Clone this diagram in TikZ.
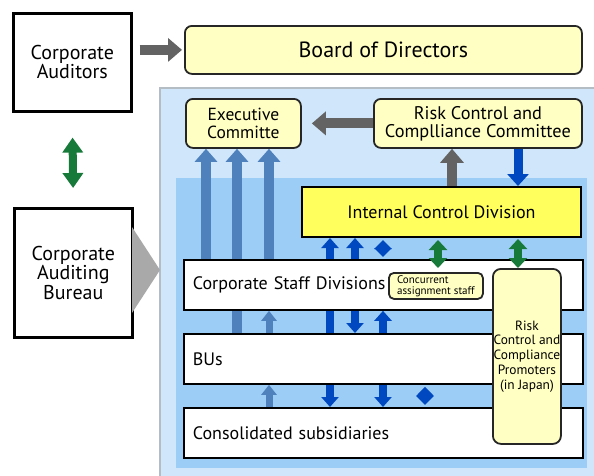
\documentclass[tikz,border=0pt]{standalone}
\usepackage{fontspec}
\setmainfont{PT Sans}
\usetikzlibrary{arrows.meta}
\definecolor{outerblue}{HTML}{D0E7FB}
\definecolor{innerblue}{HTML}{9CCDF6}
\definecolor{paleyel}{HTML}{FFFFC4}
\definecolor{brightyel}{HTML}{FFFF5E}
\definecolor{arrgray}{HTML}{636363}
\definecolor{steel}{HTML}{4F81BD}
\definecolor{darkblue}{HTML}{0048C0}
\definecolor{arrgreen}{HTML}{187A3A}
\definecolor{trigray}{HTML}{A9A9A9}
\definecolor{panelline}{HTML}{B4BCC4}
\begin{document}
\begin{tikzpicture}[x=1pt,y=-1pt,
  plainbox/.style={draw=black, line width=2.6pt, fill=white, inner sep=0pt, anchor=north west, align=center, font=\fontsize{20}{17}\selectfont},
  ybox/.style={draw=black!85, line width=1.8pt, fill=paleyel, rounded corners=7pt, inner sep=0pt, anchor=north west, align=center},
  layerbox/.style={draw=black, line width=1.8pt, fill=white, anchor=north west, minimum height=50pt, inner xsep=9pt, inner ysep=0pt, text width=381pt, align=left, font=\fontsize{18}{20}\selectfont},
  grayarr/.style={draw=arrgray, line width=10pt, -{Triangle[length=14pt,width=23pt]}},
  steelarr/.style={draw=steel, line width=10pt, -{Triangle[length=13pt,width=22pt]}},
  thinsteel/.style={draw=steel, line width=7pt, -{Triangle[length=10pt,width=15pt]}},
  bluearr/.style={draw=darkblue, line width=8pt, -{Triangle[length=10pt,width=17pt]}},
  bluebar/.style={draw=darkblue, line width=8pt},
  bluedia/.style={draw=darkblue, line width=6pt, {Triangle[length=9pt,width=17pt]}-{Triangle[length=9pt,width=17pt]}, shorten <=2pt, shorten >=2pt},
  greenarr/.style={draw=arrgreen, line width=8pt, {Triangle[length=10pt,width=18pt]}-{Triangle[length=10pt,width=18pt]}},
]
\useasboundingbox (0,0) rectangle (594,475);
\fill[white] (0,0) rectangle (594,475);

% panels
\filldraw[fill=outerblue, draw=panelline, line width=1.5pt] (160,88) rectangle (600,480);
\fill[innerblue] (176,178) rectangle (587,468);

% column coordinates
\coordinate (c206) at (206,0);
\coordinate (c237) at (237,0);
\coordinate (c269) at (269,0);
\coordinate (c330) at (330,0);
\coordinate (c355) at (355,0);
\coordinate (c383) at (383,0);
\coordinate (c425) at (425,0);
\coordinate (c438) at (438,0);
\coordinate (c452) at (452,0);
\coordinate (c518) at (518,0);

% left boxes
\node[plainbox, minimum width=118pt, minimum height=98pt] (aud) at (12,12) {Corporate\\Auditors};
\node[plainbox, minimum width=118pt, minimum height=129pt] (bureau) at (13,207) {Corporate\\Auditing\\Bureau};
\fill[trigray] (132,227) -- (160,270) -- (132,313) -- cycle;

% top boxes
\node[ybox, minimum width=397pt, minimum height=48pt, font=\fontsize{22}{24}\selectfont] (board) at (184,25) {Board of Directors};
\node[ybox, minimum width=115pt, minimum height=49pt, font=\fontsize{17.5}{18}\selectfont] (exec) at (185,98) {Executive\\Committe};
\node[ybox, minimum width=208pt, minimum height=49pt, font=\fontsize{18.3}{18}\selectfont] (risk) at (373,98) {Risk Control and\\Complliance Committee};
\node[draw=black, line width=2pt, fill=brightyel, inner sep=0pt, anchor=north west, minimum width=279pt, minimum height=50pt, font=\fontsize{18}{20}\selectfont] (ic) at (301,186) {Internal Control Division};

% layer boxes
\node[layerbox] (cons) at (183,407) {Consolidated subsidiaries};

% long arrows behind boxes
\path (183,333) coordinate (busnw);
\draw[steelarr] (c237 |- busnw) -- (c237 |- exec.south);
\draw[bluearr] (330,310) -- (cons.north -| c330);

\node[layerbox] (bus) at (183,333) {BUs};
\node[layerbox] (csd) at (183,259) {Corporate Staff Divisions};

\draw[steelarr] (csd.north -| c206) -- (exec.south -| c206);
\draw[steelarr] (csd.north -| c269) -- (exec.south -| c269);
\draw[thinsteel] (bus.north -| c269) -- (csd.south -| c269);
\draw[thinsteel] (cons.north -| c269) -- (bus.south -| c269);

\node[ybox, rounded corners=5pt, minimum width=94pt, minimum height=26pt, align=left, font=\fontsize{11}{11}\selectfont] (conc) at (388,272) {Concurrent\\assignment staff};
\node[ybox, rounded corners=8pt, minimum width=68pt, minimum height=175pt, font=\fontsize{13.4}{14.7}\selectfont] (prom) at (492,268) {Risk\\Control and\\Compliance\\Promoters\\(in Japan)};

% gray arrows
\draw[grayarr, shorten <=7pt, shorten >=2pt] (aud.east |- board.west) -- (board.west);
\draw[grayarr, shorten >=10pt] (risk.west) -- (exec.east);
\draw[grayarr] (ic.north -| c452) -- (risk.south -| c452);
\draw[draw=darkblue, line width=9pt, -{Triangle[length=12pt,width=21pt]}] (risk.south -| c518) -- (ic.north -| c518);

% blue arrows IC <-> CSD
\draw[bluearr] (csd.north -| c330) -- (ic.south -| c330);
\draw[bluearr] (csd.north -| c355) -- (ic.south -| c355);
\draw[bluedia] (csd.north -| c383) -- (ic.south -| c383);
% CSD <-> BUs
\draw[bluebar] (csd.south -| c330) -- (bus.north -| c330);
\draw[bluearr] (csd.south -| c355) -- (bus.north -| c355);
\draw[bluearr] (bus.north -| c383) -- (csd.south -| c383);
% BUs <-> Consolidated
\draw[bluearr] (bus.south -| c383) -- (cons.north -| c383);
\draw[bluedia] (bus.south -| c425) -- (cons.north -| c425);

% green arrows
\draw[greenarr, shorten <=2pt, shorten >=4pt] (ic.south -| c438) -- (conc.north -| c438);
\draw[greenarr, shorten <=1pt] (ic.south -| c518) -- (prom.north -| c518);
\draw[draw=arrgreen, line width=8pt, {Triangle[length=15pt,width=20pt]}-{Triangle[length=15pt,width=20pt]}, shorten <=25pt, shorten >=19pt] (aud.south) -- (bureau.north);
\end{tikzpicture}
\end{document}
